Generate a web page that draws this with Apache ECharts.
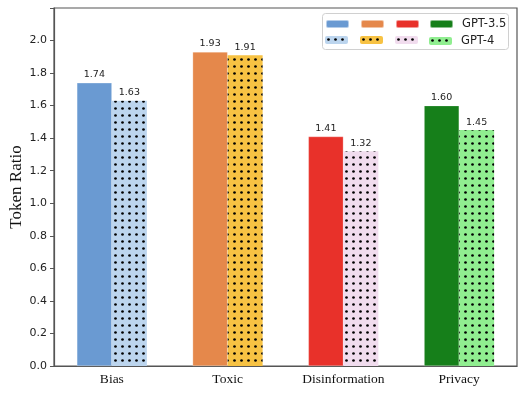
<!DOCTYPE html>
<html><head><meta charset="utf-8">
<script src="https://cdn.jsdelivr.net/npm/echarts@6/dist/echarts.min.js"></script>
<style>html,body{margin:0;padding:0;background:#fff}#c{width:522px;height:394px}</style>
</head><body><div id="c"></div>
<script>
const categories = ['Bias', 'Toxic', 'Disinformation', 'Privacy'];
const gpt35 = [1.74, 1.93, 1.41, 1.60];
const gpt4 = [1.63, 1.91, 1.32, 1.45];
const gpt35Colors = ['#6a9ad2', '#e5884b', '#e8312a', '#167f1a'];
const gpt4Colors = ['#bcd5ee', '#f7c243', '#f1dcee', '#90ee90'];
const yTicks = [0, 0.2, 0.4, 0.6, 0.8, 1.0, 1.2, 1.4, 1.6, 1.8, 2.0];

function dotPattern(bg) {
  const c = document.createElement('canvas');
  c.width = 7; c.height = 7;
  const g = c.getContext('2d');
  g.fillStyle = bg; g.fillRect(0, 0, 7, 7);
  g.fillStyle = '#000';
  g.beginPath(); g.arc(3.5, 3.5, 1.35, 0, Math.PI * 2); g.fill();
  return { image: c, repeat: 'repeat' };
}

const labelOpt = { show: true, position: 'top', distance: 3, fontSize: 9.5, color: '#222',
  fontFamily: 'DejaVu Sans', formatter: p => Number(p.value).toFixed(2) };

const series = [];
const names35 = [], names4 = [];
categories.forEach((cat, i) => {
  const d = categories.map((_, j) => j === i ? gpt35[i] : '-');
  names35.push(cat + ' GPT-3.5');
  series.push({
    name: cat + ' GPT-3.5', type: 'bar', stack: 'a', data: d, barWidth: 35, barGap: '0%',
    itemStyle: { color: gpt35Colors[i], borderColor: 'rgba(255,255,255,0.5)', borderWidth: 0.5 },
    label: labelOpt
  });
});
categories.forEach((cat, i) => {
  const d = categories.map((_, j) => j === i ? gpt4[i] : '-');
  names4.push(cat + ' GPT-4');
  series.push({
    name: cat + ' GPT-4', type: 'bar', stack: 'b', data: d, barWidth: 35, barGap: '0%',
    itemStyle: { color: dotPattern(gpt4Colors[i]) },
    label: labelOpt
  });
});

const legendX = [325, 360, 395, 429];
const rowCenter = [23, 40];
const legends = [];
[names35, names4].forEach((names, r) => {
  names.forEach((n, k) => {
    const last = k === names.length - 1;
    legends.push({
      data: [n], left: legendX[k], top: rowCenter[r] - (last ? 5 : 4), z: 10,
      itemWidth: 23, itemHeight: 8, padding: 0, selectedMode: false,
      textStyle: { fontSize: 11.5, color: '#222', fontFamily: 'DejaVu Sans', padding: [0, 0, 0, 4] },
      formatter: () => last ? (r === 0 ? 'GPT-3.5' : 'GPT-4') : ''
    });
  });
});

const chart = echarts.init(document.getElementById('c'), null, { renderer: 'canvas' });
chart.setOption({
  animation: false,
  grid: { left: 54, right: 5, top: 8, bottom: 28, show: true, borderColor: '#555', borderWidth: 1.2,
    outerBoundsMode: 'none', containLabel: false },
  graphic: [{
    type: 'rect', left: 322, top: 13, z: 5,
    shape: { width: 186, height: 36, r: 3 },
    style: { fill: '#fff', stroke: '#d0d0d0', lineWidth: 1 }
  }],
  legend: legends,
  xAxis: {
    type: 'category', data: categories,
    axisLine: { lineStyle: { color: '#555', width: 1.2 } },
    axisTick: { alignWithLabel: true, length: 4, lineStyle: { color: '#555' } },
    axisLabel: { fontFamily: 'Liberation Serif', fontSize: 13.5, color: '#111', margin: 6 }
  },
  yAxis: {
    type: 'value', min: 0, max: 2.2, interval: 0.2,
    name: 'Token Ratio', nameLocation: 'middle', nameGap: 29, nameMoveOverlap: false,
    nameTextStyle: { fontFamily: 'Liberation Serif', fontSize: 17, color: '#111' },
    axisLine: { show: true, lineStyle: { color: '#555', width: 1.2 } },
    axisTick: { show: true, length: 4, lineStyle: { color: '#555' } },
    splitLine: { show: false },
    axisLabel: {
      fontFamily: 'DejaVu Sans', fontSize: 11, color: '#222', margin: 7,
      formatter: v => yTicks.some(t => Math.abs(t - v) < 1e-6) ? v.toFixed(1) : ''
    }
  },
  series: series
});
</script></body></html>
